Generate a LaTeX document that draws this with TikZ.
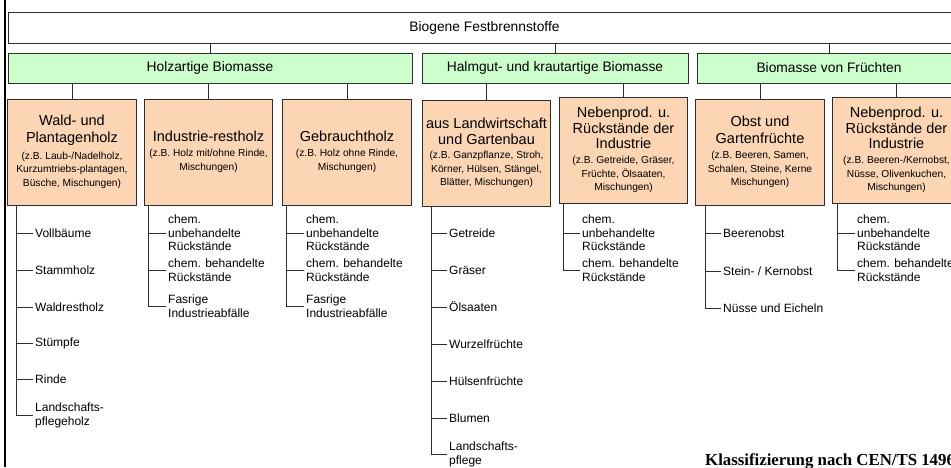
\documentclass[tikz,border=0pt]{standalone}
\usepackage{fontspec}
\setmainfont{Liberation Sans}
\newfontfamily\capfont{Liberation Serif}
\definecolor{boxgreen}{RGB}{204,255,204}
\definecolor{boxpeach}{RGB}{252,213,180}
\definecolor{linegray}{RGB}{45,45,45}
\newcommand\ttl[1]{{\fontsize{14.5}{16.5}\selectfont #1}}
\begin{document}
\begin{tikzpicture}[x=1pt,y=-1pt,
  frame/.style={draw=linegray, line width=1pt, inner sep=0pt, align=center},
  topbox/.style={frame, fill=white, minimum height=31, font=\fontsize{13.8}{16}\selectfont},
  greenbox/.style={frame, fill=boxgreen, minimum height=30, font=\fontsize{13.8}{16}\selectfont},
  peachbox/.style={frame, fill=boxpeach, minimum width=128.5, minimum height=106, font=\fontsize{10.2}{13.5}\selectfont},
  conn/.style={draw=linegray, line width=1pt},
  item/.style={anchor=west, inner xsep=2pt, inner ysep=0pt, align=left, font=\fontsize{12}{13.5}\selectfont},
]
\useasboundingbox (0,0) rectangle (951,467);
\clip (0,0) rectangle (951,467);

% left border line
\draw[line width=2.5pt, black] (5,0) -- (5,467);

% level 1
\node[topbox, minimum width=953] (top) at (484.5,27.5) {Biogene Festbrennstoffe};

% level 2
\node[greenbox, minimum width=404] (holz) at (210,68) {Holzartige Biomasse};
\node[greenbox, minimum width=266] (halm) at (555,68) {Halmgut- und krautartige Biomasse};
\node[greenbox, minimum width=264] (frucht) at (829,68) {Biomasse von Früchten};

\draw[conn] (top.south -| holz.north) -- (holz.north);
\draw[conn] (top.south -| halm.north) -- (halm.north);
\draw[conn] (top.south -| frucht.north) -- (frucht.north);

% level 3
\node[peachbox] (wald) at (72,152) {\ttl{Wald- und}\\[3.5pt]\ttl{Plantagenholz}\\[3pt](z.B. Laub-/Nadelholz,\\Kurzumtriebs-plantagen,\\Büsche, Mischungen)};
\node[peachbox] (indu) at (208.5,152) {\ttl{Industrie-restholz}\\[1.5pt](z.B. Holz mit/ohne Rinde,\\Mischungen)};
\node[peachbox] (gebr) at (347,152) {\ttl{Gebrauchtholz}\\[1.5pt](z.B. Holz ohne Rinde,\\Mischungen)};
\node[peachbox] (land) at (486.5,153) {\ttl{aus Landwirtschaft}\\[2.5pt]\ttl{und Gartenbau}\\[1pt](z.B. Ganzpflanze, Stroh,\\Körner, Hülsen, Stängel,\\Blätter, Mischungen)};
\node[peachbox] (nebA) at (623.5,150) {\ttl{Nebenprod. u.}\\[1.5pt]\ttl{Rückstände der}\\[1.5pt]\ttl{Industrie}\\[2pt](z.B. Getreide, Gräser,\\Früchte, Ölsaaten,\\Mischungen)};
\node[peachbox] (obst) at (760,152) {\ttl{Obst und}\\[3.5pt]\ttl{Gartenfrüchte}\\[2pt](z.B. Beeren, Samen,\\Schalen, Steine, Kerne\\Mischungen)};
\node[peachbox] (nebB) at (896.5,150) {\ttl{Nebenprod. u.}\\[1.5pt]\ttl{Rückstände der}\\[1.5pt]\ttl{Industrie}\\[2pt](z.B. Beeren-/Kernobst,\\Nüsse, Olivenkuchen,\\Mischungen)};

\draw[conn] (holz.south -| wald.north) -- (wald.north);
\draw[conn] (holz.south -| indu.north) -- (indu.north);
\draw[conn] (holz.south -| gebr.north) -- (gebr.north);
\draw[conn] (halm.south -| land.north) -- (land.north);
\draw[conn] (halm.south -| nebA.north) -- (nebA.north);
\draw[conn] (frucht.south -| obst.north) -- (obst.north);
\draw[conn] (frucht.south -| nebB.north) -- (nebB.north);

% Wald list
\coordinate (wv) at (wald.south -| 16,0);
\node[item] (w1) at (33,233) {Vollbäume};
\node[item] (w2) at (33,270) {Stammholz};
\node[item] (w3) at (33,307) {Waldrestholz};
\node[item] (w4) at (33,343) {Stümpfe};
\node[item] (w5) at (33,379) {Rinde};
\node[item] (w6) at (33,415.5) {Landschafts-\\pflegeholz};
\draw[conn] (wv) |- (w6.west);
\foreach \i in {1,...,5} \draw[conn] (w\i.west) -- (w\i.west -| wv);

% Industrie-restholz list
\coordinate (iv) at (indu.south -| 148,0);
\node[item] (i1) at (166,233) {chem.\\unbehandelte\\Rückstände};
\node[item] (i2) at (166,270) {chem. behandelte\\Rückstände};
\node[item] (i3) at (166,306) {Fasrige\\Industrieabfälle};
\draw[conn] (iv) |- (i3.west);
\foreach \i in {1,2} \draw[conn] (i\i.west) -- (i\i.west -| iv);

% Gebrauchtholz list
\coordinate (gv) at (gebr.south -| 286,0);
\node[item] (g1) at (304,233) {chem.\\unbehandelte\\Rückstände};
\node[item] (g2) at (304,270) {chem. behandelte\\Rückstände};
\node[item] (g3) at (304,306) {Fasrige\\Industrieabfälle};
\draw[conn] (gv) |- (g3.west);
\foreach \i in {1,2} \draw[conn] (g\i.west) -- (g\i.west -| gv);

% Landwirtschaft list
\coordinate (lv) at (land.south -| 431,0);
\node[item] (l1) at (447,233) {Getreide};
\node[item] (l2) at (447,270) {Gräser};
\node[item] (l3) at (447,307) {Ölsaaten};
\node[item] (l4) at (447,344) {Wurzelfrüchte};
\node[item] (l5) at (447,381) {Hülsenfrüchte};
\node[item] (l6) at (447,418) {Blumen};
\node[item] (l7) at (447,454.5) {Landschafts-\\pflege};
\draw[conn] (lv) |- (l7.west);
\foreach \i in {1,...,6} \draw[conn] (l\i.west) -- (l\i.west -| lv);

% Nebenprodukte (Halmgut) list
\coordinate (av) at (nebA.south -| 563,0);
\node[item] (a1) at (580,233) {chem.\\unbehandelte\\Rückstände};
\node[item] (a2) at (580,270) {chem. behandelte\\Rückstände};
\draw[conn] (av) |- (a2.west);
\draw[conn] (a1.west) -- (a1.west -| av);

% Obst list
\coordinate (ov) at (obst.south -| 705,0);
\node[item] (o1) at (721,233) {Beerenobst};
\node[item] (o2) at (721,271) {Stein- / Kernobst};
\node[item] (o3) at (721,308) {Nüsse und Eicheln};
\draw[conn] (ov) |- (o3.west);
\foreach \i in {1,2} \draw[conn] (o\i.west) -- (o\i.west -| ov);

% Nebenprodukte (Früchte) list
\coordinate (bv) at (nebB.south -| 837,0);
\node[item] (b1) at (855,233) {chem.\\unbehandelte\\Rückstände};
\node[item] (b2) at (855,270) {chem. behandelte\\Rückstände};
\draw[conn] (bv) |- (b2.west);
\draw[conn] (b1.west) -- (b1.west -| bv);

% caption
\node[anchor=base west, inner sep=0pt, font=\capfont\bfseries\fontsize{16.8}{19}\selectfont] (cap) at (705,465) {Klassifizierung nach CEN/TS 14961};
\end{tikzpicture}
\end{document}
